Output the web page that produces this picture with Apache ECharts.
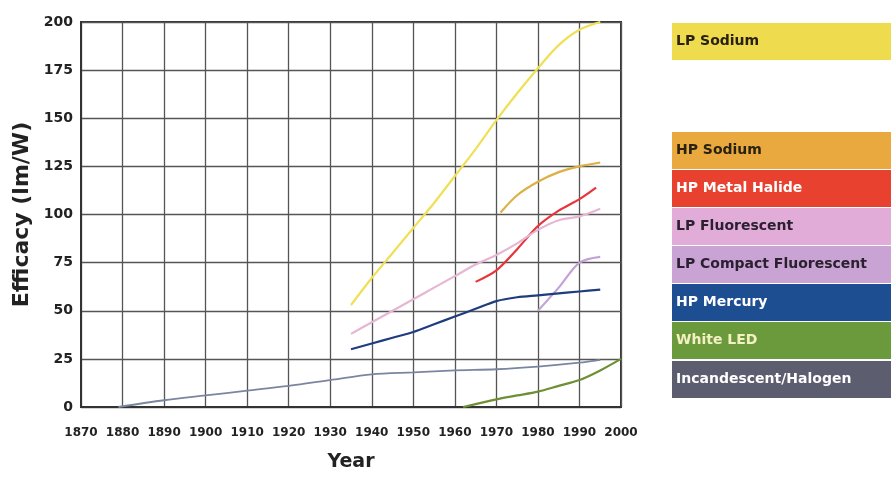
<!DOCTYPE html>
<html>
<head>
	<meta charset="utf-8" />
	<title>Lamp efficacy</title>
	<script src="https://cdn.jsdelivr.net/npm/echarts@6/dist/echarts.min.js"></script>
	<style>
		html, body { margin: 0; padding: 0; background: #fff; }
		#main { width: 891px; height: 477px; }
	</style>
</head>
<body>
<div id="main"></div>
<script>
// series names (legend order, top to bottom)
var names = ['LP Sodium', 'HP Sodium', 'HP Metal Halide', 'LP Fluorescent',
	'LP Compact Fluorescent', 'HP Mercury', 'White LED', 'Incandescent/Halogen'];

// [year, lm/W]
var lpSodium = [[1935, 53], [1940, 67], [1945, 80], [1950, 93], [1955, 106], [1960, 120],
	[1965, 134], [1970, 149], [1975, 163], [1980, 176], [1985, 188], [1990, 196], [1995, 200]];
var hpSodium = [[1971, 101], [1975, 110], [1980, 117], [1985, 122], [1990, 125], [1995, 127]];
var metalHalide = [[1965, 65], [1970, 71], [1975, 82], [1980, 94], [1985, 102], [1990, 108], [1994, 114]];
var lpFluor = [[1935, 38], [1940, 44], [1945, 50], [1950, 56], [1955, 62], [1960, 68],
	[1965, 74], [1970, 79], [1975, 85], [1980, 92], [1985, 97], [1990, 99], [1995, 103]];
var compactFluor = [[1980, 50], [1985, 62], [1990, 75], [1995, 78]];
var hpMercury = [[1935, 30], [1940, 33], [1945, 36], [1950, 39], [1955, 43], [1960, 47],
	[1965, 51], [1970, 55], [1975, 57], [1980, 58], [1985, 59], [1990, 60], [1995, 61]];
var whiteLed = [[1962, 0], [1970, 4], [1975, 6], [1980, 8], [1985, 11], [1990, 14], [1995, 19], [2000, 25]];
var incandescent = [[1879, 0], [1890, 3.5], [1900, 6], [1910, 8.5], [1920, 11], [1930, 14],
	[1940, 17], [1950, 18], [1960, 19], [1970, 19.6], [1980, 21], [1990, 23], [1995, 24.5]];

var seriesData = [lpSodium, hpSodium, metalHalide, lpFluor, compactFluor, hpMercury, whiteLed, incandescent];

// styles
var lineColors = ['#efe055', '#ddb043', '#e8353a', '#e6b6d2', '#c3a3d6', '#1f3d7e', '#6e8f34', '#7a86a0'];
var boxColors = ['#efdb4e', '#e9a93f', '#e8412f', '#e2acd8', '#c9a3d3', '#1e4e92', '#6b9a3c', '#5c5e70'];
var textColors = ['#2a2210', '#2a2210', '#ffffff', '#2a2030', '#2a2030', '#ffffff', '#f4f0c4', '#ffffff'];
var boxTops = [23, 132, 170, 208, 246, 284, 322, 361];

var chart = echarts.init(document.getElementById('main'));

var series = names.map(function (n, i) {
	return {
		name: n,
		type: 'line',
		data: seriesData[i],
		smooth: 0.3,
		showSymbol: false,
		lineStyle: { color: lineColors[i], width: i === 7 ? 1.8 : 2.2 },
		z: 3
	};
});

var graphic = names.map(function (n, i) {
	return {
		type: 'group',
		left: 672,
		top: boxTops[i],
		children: [
			{ type: 'rect', shape: { x: 0, y: 0, width: 230, height: 37 }, style: { fill: boxColors[i] } },
			{ type: 'text', x: 4, y: 18.5, style: {
				text: n, fill: textColors[i], font: 'bold 14px "DejaVu Sans"', verticalAlign: 'middle'
			} }
		]
	};
});

chart.setOption({
	backgroundColor: '#fff',
	animation: false,
	grid: { left: 81, right: 270, top: 22, bottom: 67, show: true, borderColor: '#333', borderWidth: 2 },
	xAxis: {
		type: 'value', min: 1870, max: 2000, interval: 10,
		name: 'Year', nameLocation: 'middle', nameGap: 46,
		nameTextStyle: { fontFamily: 'DejaVu Sans', fontWeight: 'bold', fontSize: 19, color: '#222' },
		axisLine: { lineStyle: { color: '#333', width: 2 } },
		axisTick: { show: false },
		axisLabel: {
			fontFamily: 'DejaVu Sans', fontWeight: 'bold', fontSize: 12, color: '#222', margin: 20,
			formatter: function (v) { return String(v); }
		},
		splitLine: { lineStyle: { color: '#555', width: 1.3 } }
	},
	yAxis: {
		type: 'value', min: 0, max: 200, interval: 25,
		name: 'Efficacy (lm/W)', nameLocation: 'middle', nameGap: 40, nameRotate: 90,
		nameTextStyle: { fontFamily: 'DejaVu Sans', fontWeight: 'bold', fontSize: 22, color: '#222' },
		axisLine: { show: true, lineStyle: { color: '#333', width: 2 } },
		axisTick: { show: false },
		axisLabel: { fontFamily: 'DejaVu Sans', fontWeight: 'bold', fontSize: 14, color: '#222', margin: 8 },
		splitLine: { lineStyle: { color: '#555', width: 1.3 } }
	},
	series: series,
	graphic: graphic
});
</script>
</body>
</html>
